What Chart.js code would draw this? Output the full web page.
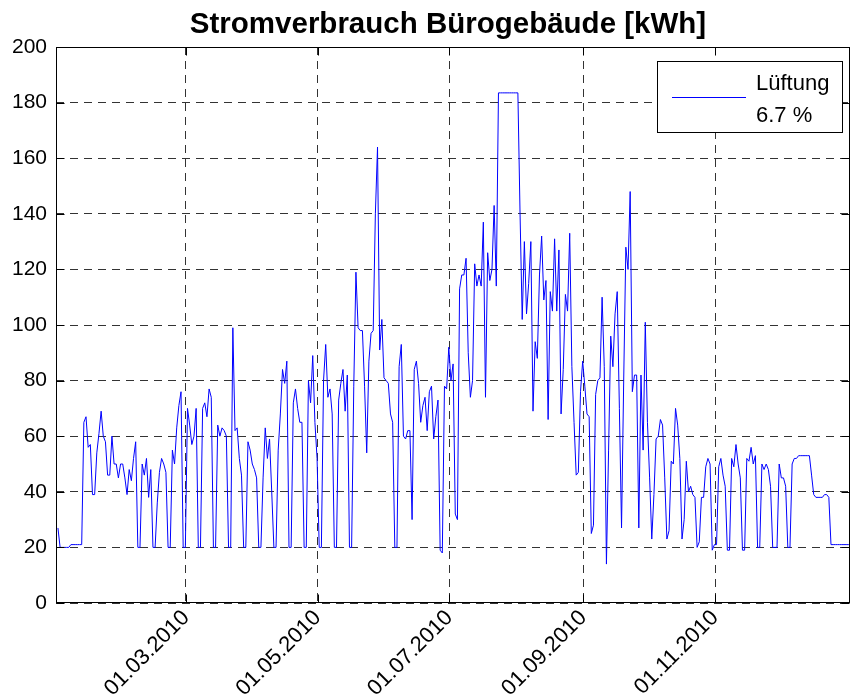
<!DOCTYPE html>
<html>
<head>
<meta charset="utf-8">
<script src="https://cdn.jsdelivr.net/npm/chart.js@4/dist/chart.umd.min.js"></script>
<style>
html,body{margin:0;padding:0;background:#fff;}
#wrap{position:relative;width:853px;height:698px;}
</style>
</head>
<body>
<div id="wrap"><canvas id="c" width="853" height="698"></canvas></div>
<script>
// ---- data ----
const chartTitle = 'Stromverbrauch Bürogebäude [kWh]';
const seriesName = 'Lüftung';
const seriesShare = '6.7 %';
// first value is for day -1 (31.12.2009); days counted from 01.01.2010
const firstDay = -1;
const sampleTime = 0.7; // daily readings are time-stamped late in the day
const dailyKWh = [
  27, 20, 20, 20, 20, 20,
  21, 21, 21, 21, 21, 21,
  65, 67, 56, 57, 39, 39, 54,
  61, 69, 60, 58, 46, 46, 60,
  50, 50, 45, 50, 50, 45, 39,
  48, 44, 52, 58, 20, 20, 50,
  46, 52, 38, 48, 20, 20, 36,
  47, 52, 50, 47, 20, 20, 55,
  50, 63, 71, 76, 20, 20, 70,
  64, 57, 60, 70, 20, 20, 70,
  72, 67, 77, 74, 20, 20, 64,
  60, 63, 62, 60, 20, 20, 99,
  62, 63, 52, 46, 20, 20, 58,
  55, 50, 48, 45, 20, 20, 45,
  63, 52, 59, 40, 20, 20, 55,
  68, 84, 79, 87, 20, 20, 72,
  77, 70, 65, 65, 20, 20, 80,
  72, 89, 65, 52, 20, 20, 80,
  93, 74, 77, 68, 20, 20, 73,
  79, 84, 69, 82, 20, 20, 78,
  119, 99, 98, 98, 78, 54, 87,
  97, 98, 140, 164, 91, 102, 81,
  80, 79, 68, 65, 20, 20, 85,
  93, 60, 59, 62, 62, 30, 84,
  87, 79, 65, 71, 74, 62, 76,
  78, 59, 67, 73, 19, 18, 78,
  77, 92, 80, 86, 32, 30, 113,
  118, 118, 124, 90, 74, 80, 122,
  114, 118, 114, 137, 74, 126, 116,
  120, 143, 114, 183.5, 183.5, 183.5, 183.5,
  183.5, 183.5, 183.5, 183.5, 183.5, 183.5, 140,
  102, 130, 104, 115, 130, 69, 94,
  88, 118, 132, 109, 116, 66, 112,
  105, 131, 105, 127, 68, 84, 111,
  105, 133, 85, 65, 46, 47, 76,
  87, 78, 68, 67, 25, 28, 75,
  80, 81, 110, 85, 14, 55, 96,
  85, 104, 112, 70, 27, 80, 128,
  120, 148, 76, 82, 82, 27, 82,
  55, 101, 65, 45, 23, 39, 59,
  60, 66, 64, 45, 23, 26, 51,
  50, 70, 64, 52, 23, 30, 51,
  40, 42, 39, 38, 20, 22, 38,
  38, 49, 52, 50, 19, 21, 21,
  49, 52, 46, 42, 19, 19, 52,
  49, 57, 50, 45, 19, 19, 52,
  51, 56, 50, 53, 20, 20, 50,
  48, 50, 48, 42, 20, 20, 20,
  50, 45, 45, 42, 20, 20, 50,
  52, 52, 53, 53, 53, 53, 53,
  53, 46, 39, 38, 38, 38, 38,
  39, 39, 38, 21, 21, 21, 21,
  21, 21, 21, 21, 21, 21
];
const xTickDays = [59, 120, 181, 243, 304];
const xTickLabels = ['01.03.2010', '01.05.2010', '01.07.2010', '01.09.2010', '01.11.2010'];
const yMin = 0, yMax = 200, yStep = 20;
const xMin = -1.2, xMax = 366.5;

// ---- build ----
const points = dailyKWh.map((v, i) => ({x: firstDay + i + sampleTime, y: v}));
const FONT = "'Liberation Sans', Arial, Helvetica, sans-serif";

const frame = {
  id: 'frame',
  afterDatasetsDraw(chart) {
    const {ctx, chartArea: a, scales} = chart;
    const L = Math.round(a.left) + 0.5, R = Math.round(a.right) - 0.5;
    const T = Math.round(a.top) + 0.5, B = Math.round(a.bottom) - 0.5;
    const tl = 8;
    ctx.save();
    ctx.strokeStyle = '#000';
    ctx.lineWidth = 1;
    ctx.setLineDash([]);
    ctx.strokeRect(L, T, R - L, B - T);
    ctx.beginPath();
    for (let v = yMin; v <= yMax; v += yStep) {
      const y = Math.round(scales.y.getPixelForValue(v)) + 0.5;
      ctx.moveTo(L, y); ctx.lineTo(L + tl, y);
      ctx.moveTo(R, y); ctx.lineTo(R - tl, y);
    }
    xTickDays.forEach(d => {
      const x = Math.round(scales.x.getPixelForValue(d)) + 0.5;
      ctx.moveTo(x, B); ctx.lineTo(x, B - tl);
      ctx.moveTo(x, T); ctx.lineTo(x, T + tl);
    });
    ctx.stroke();
    ctx.restore();
  },
  afterDraw(chart) {
    const {ctx, chartArea: a} = chart;
    ctx.save();
    // title
    ctx.fillStyle = '#000';
    ctx.font = 'bold 29.5px ' + FONT;
    ctx.textAlign = 'center';
    ctx.textBaseline = 'alphabetic';
    ctx.fillText(chartTitle, (a.left + a.right) / 2 - 5, 32.5);
    // legend
    const bx = 657.5, by = 61.5, bw = 185, bh = 71;
    ctx.fillStyle = '#fff';
    ctx.fillRect(bx, by, bw, bh);
    ctx.strokeStyle = '#000';
    ctx.lineWidth = 1;
    ctx.strokeRect(bx, by, bw, bh);
    ctx.strokeStyle = '#0000ff';
    ctx.beginPath();
    ctx.moveTo(672, 97.5); ctx.lineTo(746, 97.5);
    ctx.stroke();
    ctx.fillStyle = '#000';
    ctx.font = '22px ' + FONT;
    ctx.textAlign = 'left';
    ctx.fillText(seriesName, 756, 90);
    ctx.fillText(seriesShare, 756, 122);
    ctx.restore();
  }
};

new Chart(document.getElementById('c'), {
  type: 'line',
  data: {
    datasets: [{
      label: seriesName,
      data: points,
      borderColor: '#0000ff',
      borderWidth: 1,
      pointRadius: 0,
      tension: 0,
      fill: false
    }]
  },
  options: {
    responsive: false,
    animation: false,
    devicePixelRatio: 1,
    layout: {padding: {top: 47, right: 3, left: 0, bottom: 0}},
    plugins: {legend: {display: false}, title: {display: false}, tooltip: {enabled: false}},
    scales: {
      x: {
        type: 'linear',
        min: xMin, max: xMax,
        afterBuildTicks: s => { s.ticks = xTickDays.map(v => ({value: v})); },
        afterFit: s => { s.height = 95; },
        ticks: {
          autoSkip: false,
          minRotation: 45, maxRotation: 45,
          padding: 2,
          color: '#000',
          font: {family: FONT, size: 22},
          callback: v => { const i = xTickDays.indexOf(v); return i >= 0 ? xTickLabels[i] : ''; }
        },
        grid: {color: 'rgba(0,0,0,0.8)', lineWidth: 1, drawTicks: false},
        border: {display: false, dash: [8, 6]}
      },
      y: {
        min: yMin, max: yMax,
        afterFit: s => { s.width = 56; },
        ticks: {
          stepSize: yStep,
          padding: 9,
          color: '#000',
          font: {family: FONT, size: 21}
        },
        grid: {color: 'rgba(0,0,0,0.8)', lineWidth: 1, drawTicks: false},
        border: {display: false, dash: [8, 6]}
      }
    }
  },
  plugins: [frame]
});
</script>
</body>
</html>
